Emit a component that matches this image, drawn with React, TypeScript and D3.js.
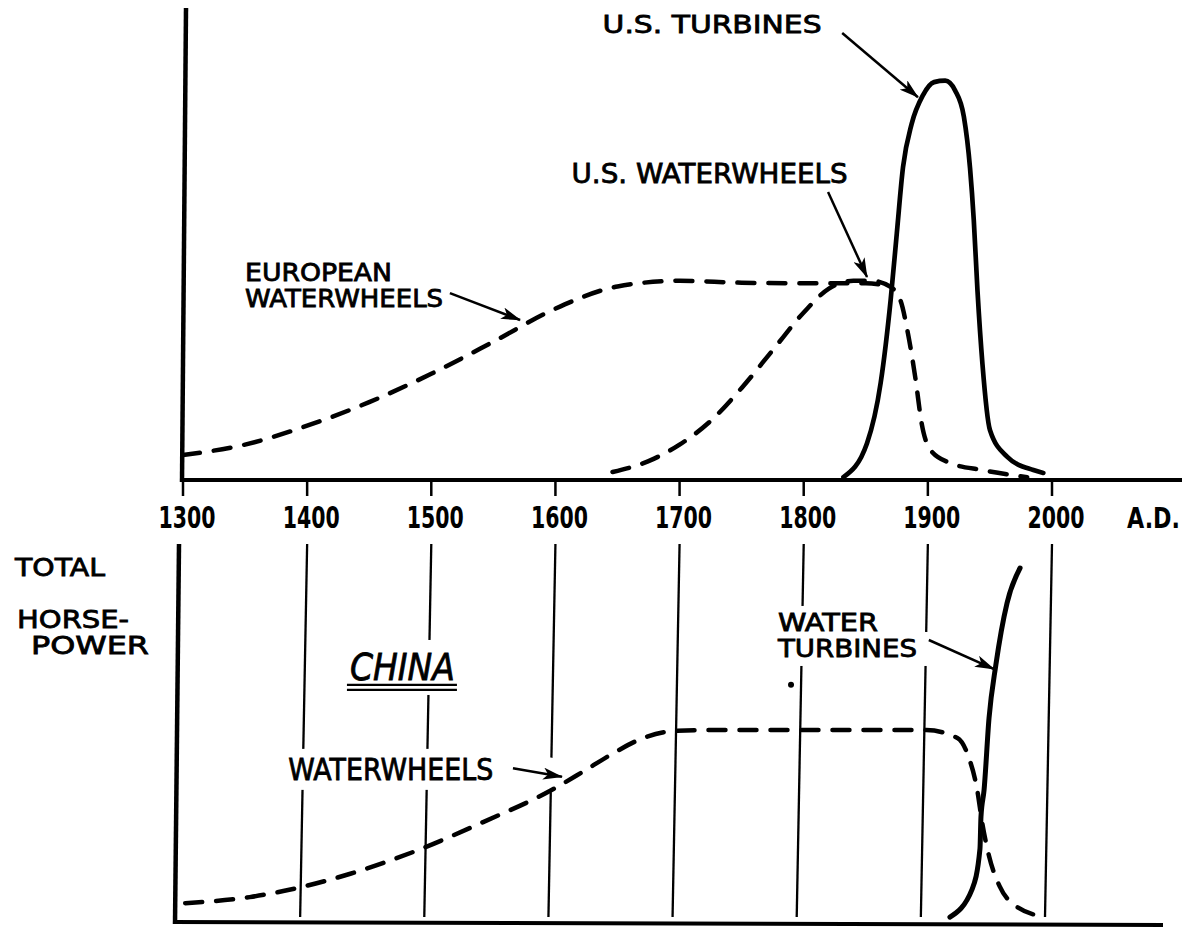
import * as d3 from 'd3';
import { useEffect, useRef } from 'react';

const WIDTH = 1193;
const HEIGHT = 933;

// shared time axis
const centuries = [1300, 1400, 1500, 1600, 1700, 1800, 1900, 2000];

// top panel (Europe / U.S.), relative total horsepower 0-100
const europeYears = [1300, 1350, 1400, 1450, 1500, 1550, 1600, 1650, 1700, 1750, 1800, 1850, 1870];
const europeValues = [5.3, 7.5, 11.5, 16.5, 22.5, 29.3, 36.3, 41, 42.2, 41.8, 41.7, 41.7, 41];

const usWheelYears = [1646, 1675, 1700, 1725, 1750, 1775, 1800, 1820, 1840, 1855, 1870, 1878, 1884, 1890, 1895, 1902, 1918, 1944, 1980];
const usWheelValues = [1.7, 4, 7.5, 12.5, 19.5, 27.5, 35.5, 40.5, 42.2, 42.2, 40.9, 38, 31, 21.5, 12, 6.4, 3.6, 2.1, 0.6];

const usTurbineYears = [1832, 1851, 1862, 1870, 1875, 1880, 1887, 1896, 1905, 1914, 1922, 1929, 1934, 1937, 1940, 1944, 1950, 1964, 1985, 1993];
const usTurbineValues = [0.6, 7.8, 20.6, 38.1, 52.3, 66.3, 75.5, 81.5, 84.3, 84.6, 82.5, 77, 66, 55, 40, 24.5, 10.6, 4.9, 2.1, 1.5];

// bottom panel (China)
const chinaWheelYears = [1305, 1357, 1395, 1438, 1492, 1545, 1599, 1625, 1650, 1674, 1699, 1720, 1800, 1902, 1927, 1936, 1943, 1947, 1952.5, 1961, 1973, 1998];
const chinaWheelValues = [5.0, 6.6, 9.0, 12.8, 19.0, 26.5, 34.8, 39.8, 44.8, 48.8, 50.7, 50.9, 50.9, 50.9, 48.8, 43.8, 35.0, 26.3, 17.5, 9.5, 4.5, 1.3];

const chinaTurbineYears = [1921, 1939, 1945.2, 1946, 1948.5, 1952.5, 1958, 1967, 1977.5];
const chinaTurbineValues = [1.3, 8.8, 19.4, 27.9, 35.0, 54.1, 68.2, 84.6, 93.9];

type Pt = { year: number; value: number };
const zip = (ys: number[], vs: number[]): Pt[] => ys.map((year, i) => ({ year, value: vs[i] }));

// annotations, in data units
const topLabels = [
  { text: 'U.S. TURBINES', year: 1638, value: 94.7, size: 25, len: 219 },
  { text: 'U.S. WATERWHEELS', year: 1613, value: 62.9, size: 26, len: 276 },
  { text: 'EUROPEAN', year: 1350, value: 42.1, size: 24, len: 147 },
  { text: 'WATERWHEELS', year: 1350, value: 36.7, size: 24, len: 198 },
];
const topArrows = [
  { from: [1831, 94.7], to: [1892, 81.1] },
  { from: [1819.6, 61], to: [1851, 43] },
  { from: [1515, 39.6], to: [1571.5, 33.9] },
];
const bottomLabels = [
  { text: 'CHINA', year: 1437.7, value: 64.2, size: 37, len: 105, italic: true },
  { text: 'WATERWHEELS', year: 1388, value: 37.7, size: 30, len: 205, italic: false },
  { text: 'WATER', year: 1782.5, value: 77.2, size: 24, len: 100, italic: false },
  { text: 'TURBINES', year: 1782.5, value: 70.3, size: 24, len: 139, italic: false },
];
const bottomArrows = [
  { from: [1569, 40.8], to: [1608.5, 38.5], halo: 34 },
  { from: [1904, 74.8], to: [1956.5, 67.1], halo: 16 },
];
const axisTitle = [
  { text: 'TOTAL', x: 15, y: 576, len: 90 },
  { text: 'HORSE-', x: 17, y: 628, len: 112 },
  { text: 'POWER', x: 31, y: 654, len: 118 },
];

export default function App() {
  const svgRef = useRef<SVGSVGElement>(null);

  useEffect(() => {
    if (!svgRef.current) return;
    const svg = d3.select(svgRef.current);
    svg.selectAll('*').remove();

    const font = "'DejaVu Sans', sans-serif";
    const condensed = "'DejaVu Sans Condensed', 'DejaVu Sans', sans-serif";
    const ink = '#000';

    const xt = d3.scaleLinear().domain([1300, 2000]).range([183, 1052]);
    const yt = d3.scaleLinear().domain([0, 100]).range([480, 8]);
    const xb = d3.scaleLinear().domain([1300, 2000]).range([179, 1048]);
    const yb = d3.scaleLinear().domain([0, 100]).range([922, 545]);

    svg.append('rect').attr('width', WIDTH).attr('height', HEIGHT).attr('fill', '#fff');

    svg
      .append('defs')
      .append('marker')
      .attr('id', 'arrow')
      .attr('viewBox', '0 0 20 12')
      .attr('refX', 19)
      .attr('refY', 6)
      .attr('markerWidth', 20)
      .attr('markerHeight', 12)
      .attr('markerUnits', 'userSpaceOnUse')
      .attr('orient', 'auto')
      .append('path')
      .attr('d', 'M0,0 L20,6 L0,12 L5,6 Z')
      .attr('fill', ink);

    const dashed = (g: d3.Selection<SVGGElement, unknown, null, undefined>, data: Pt[], gen: d3.Line<Pt>) =>
      g
        .append('path')
        .datum(data)
        .attr('d', gen)
        .attr('fill', 'none')
        .attr('stroke', ink)
        .attr('stroke-width', 4.5)
        .attr('stroke-linecap', 'round')
        .attr('stroke-dasharray', '17,14');

    const solid = (g: d3.Selection<SVGGElement, unknown, null, undefined>, data: Pt[], gen: d3.Line<Pt>) =>
      g
        .append('path')
        .datum(data)
        .attr('d', gen)
        .attr('fill', 'none')
        .attr('stroke', ink)
        .attr('stroke-width', 4.7)
        .attr('stroke-linecap', 'round');

    // ---------- top panel ----------
    const top = svg.append('g');

    top
      .append('line')
      .attr('x1', xt(1300) + 3)
      .attr('x2', xt(1300) - 1)
      .attr('y1', yt(100))
      .attr('y2', yt(0) + 2)
      .attr('stroke', ink)
      .attr('stroke-width', 4.5);

    top
      .append('line')
      .attr('x1', xt(1300) - 2)
      .attr('x2', 1182)
      .attr('y1', yt(0))
      .attr('y2', yt(0))
      .attr('stroke', ink)
      .attr('stroke-width', 4);

    top
      .selectAll('.tick')
      .data(centuries)
      .enter()
      .append('line')
      .attr('x1', (d) => xt(d))
      .attr('x2', (d) => xt(d))
      .attr('y1', yt(0))
      .attr('y2', yt(0) + 16)
      .attr('stroke', ink)
      .attr('stroke-width', 2.5);

    top
      .selectAll('.tick-label')
      .data(centuries)
      .enter()
      .append('text')
      .attr('x', (d) => xt(d) + 4)
      .attr('y', 528)
      .attr('text-anchor', 'middle')
      .attr('font-family', condensed)
      .attr('font-weight', 'bold')
      .attr('font-size', 30)
      .attr('textLength', 57)
      .attr('lengthAdjust', 'spacingAndGlyphs')
      .attr('fill', ink)
      .text((d) => d);

    top
      .append('text')
      .attr('x', 1127)
      .attr('y', 528)
      .attr('font-family', condensed)
      .attr('font-weight', 'bold')
      .attr('font-size', 29)
      .attr('textLength', 53)
      .attr('lengthAdjust', 'spacingAndGlyphs')
      .attr('fill', ink)
      .text('A.D.');

    const lineTop = d3
      .line<Pt>()
      .x((d) => xt(d.year))
      .y((d) => yt(d.value))
      .curve(d3.curveMonotoneX);

    dashed(top, zip(europeYears, europeValues), lineTop);
    dashed(top, zip(usWheelYears, usWheelValues), lineTop);
    solid(top, zip(usTurbineYears, usTurbineValues), lineTop);

    topLabels.forEach((l) => {
      top
        .append('text')
        .attr('x', xt(l.year))
        .attr('y', yt(l.value))
        .attr('font-family', font)
        .attr('font-size', l.size)
        .attr('textLength', l.len)
        .attr('lengthAdjust', 'spacingAndGlyphs')
        .attr('fill', ink)
        .attr('stroke', ink)
        .attr('stroke-width', 0.8)
        .text(l.text);
    });

    topArrows.forEach((a) => {
      top
        .append('line')
        .attr('x1', xt(a.from[0]))
        .attr('y1', yt(a.from[1]))
        .attr('x2', xt(a.to[0]))
        .attr('y2', yt(a.to[1]))
        .attr('stroke', ink)
        .attr('stroke-width', 2.5)
        .attr('marker-end', 'url(#arrow)');
    });

    // ---------- bottom panel ----------
    const bottom = svg.append('g');
    const gridLayer = bottom.append('g');
    const haloLayer = bottom.append('g');
    const markLayer = bottom.append('g');
    const textLayer = bottom.append('g');

    gridLayer
      .selectAll('line')
      .data(centuries.slice(1))
      .enter()
      .append('line')
      .attr('x1', (d) => xb(d) + 4)
      .attr('x2', (d) => xb(d) - 3)
      .attr('y1', yb(100) - 1)
      .attr('y2', yb(0) - 5)
      .attr('stroke', ink)
      .attr('stroke-width', 2.3);

    // white gaps in the grid lines behind the arrows and lettering
    bottomArrows.forEach((a) => {
      haloLayer
        .append('line')
        .attr('x1', xb(a.from[0]))
        .attr('y1', yb(a.from[1]))
        .attr('x2', xb(a.to[0]))
        .attr('y2', yb(a.to[1]))
        .attr('stroke', '#fff')
        .attr('stroke-width', a.halo);
    });

    bottomLabels.forEach((l) => {
      const t = textLayer
        .append('text')
        .attr('x', xb(l.year))
        .attr('y', yb(l.value))
        .attr('font-family', font)
        .attr('font-size', l.size)
        .attr('font-style', l.italic ? 'italic' : 'normal')
        .attr('textLength', l.len)
        .attr('lengthAdjust', 'spacingAndGlyphs')
        .attr('fill', ink)
        .attr('stroke', ink)
        .attr('stroke-width', 0.8)
        .text(l.text);
      const b = (t.node() as SVGTextElement).getBBox();
      const padY = l.italic ? 6 : 3;
      haloLayer
        .append('rect')
        .attr('x', b.x - 12)
        .attr('y', b.y - padY)
        .attr('width', b.width + 24)
        .attr('height', b.height + padY * 2)
        .attr('fill', '#fff');
    });

    // double underline under CHINA
    const china = bottomLabels[0];
    [0, 5].forEach((dy) => {
      textLayer
        .append('line')
        .attr('x1', xb(china.year) - 3)
        .attr('x2', xb(china.year) + china.len + 2)
        .attr('y1', yb(china.value) + 5 + dy)
        .attr('y2', yb(china.value) + 5 + dy)
        .attr('stroke', ink)
        .attr('stroke-width', 2.2);
    });

    markLayer
      .append('line')
      .attr('x1', xb(1300))
      .attr('x2', xb(1300) - 4)
      .attr('y1', yb(100) - 1)
      .attr('y2', yb(0) + 2)
      .attr('stroke', ink)
      .attr('stroke-width', 4.5);

    markLayer
      .append('line')
      .attr('x1', xb(1300) - 6)
      .attr('x2', 1163)
      .attr('y1', yb(0))
      .attr('y2', yb(0) + 3)
      .attr('stroke', ink)
      .attr('stroke-width', 4);

    const lineBottom = d3
      .line<Pt>()
      .x((d) => xb(d.year))
      .y((d) => yb(d.value))
      .curve(d3.curveMonotoneX);

    dashed(markLayer, zip(chinaWheelYears, chinaWheelValues), lineBottom);
    solid(markLayer, zip(chinaTurbineYears, chinaTurbineValues), lineBottom).attr('stroke-width', 5);

    bottomArrows.forEach((a) => {
      textLayer
        .append('line')
        .attr('x1', xb(a.from[0]))
        .attr('y1', yb(a.from[1]))
        .attr('x2', xb(a.to[0]))
        .attr('y2', yb(a.to[1]))
        .attr('stroke', ink)
        .attr('stroke-width', 2.5)
        .attr('marker-end', 'url(#arrow)');
    });

    // stray ink dot from the original drawing
    markLayer.append('circle').attr('cx', xb(1793)).attr('cy', yb(62.9)).attr('r', 3).attr('fill', ink);

    // y axis title
    axisTitle.forEach((t) => {
      svg
        .append('text')
        .attr('x', t.x)
        .attr('y', t.y)
        .attr('font-family', font)
        .attr('font-size', 25)
        .attr('textLength', t.len)
        .attr('lengthAdjust', 'spacingAndGlyphs')
        .attr('fill', ink)
        .attr('stroke', ink)
        .attr('stroke-width', 0.8)
        .text(t.text);
    });
  }, []);

  return (
    <svg
      ref={svgRef}
      width={WIDTH}
      height={HEIGHT}
      style={{ position: 'absolute', left: 0, top: 0 }}
    />
  );
}
